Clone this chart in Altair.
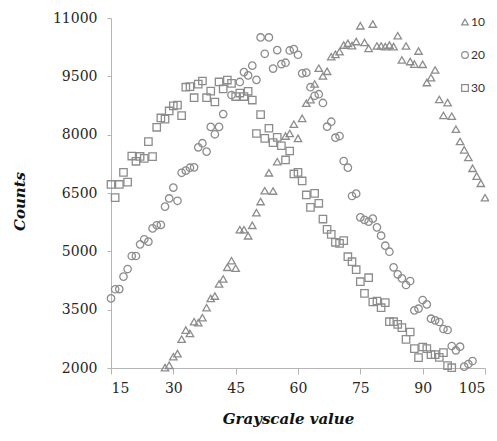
import altair as alt
import pandas as pd

# Series "10" (triangles)
x10 = [28, 29, 30, 31, 32, 33, 34, 35, 36, 37, 38, 39, 40, 41, 42, 43, 44, 45, 46, 47,
       48, 49, 50, 51, 52, 53, 54, 55, 57, 58, 59, 60, 61, 62, 63, 64, 65, 66, 67, 68,
       69, 70, 71, 72, 73, 74, 75, 76, 77, 78, 79, 80, 81, 82, 83, 84, 85, 86, 87, 88,
       89, 90, 91, 92, 93, 94, 95, 96, 97, 98, 99, 100, 101, 102, 103, 104, 105]
y10 = [2010, 2070, 2290, 2370, 2740, 2975, 2890, 3190, 3165, 3295, 3550, 3790, 3850, 4160,
       4290, 4590, 4760, 4565, 5555, 5555, 5400, 5670, 5995, 6280, 6560, 7020, 6550, 7305,
       7965, 8030, 8270, 7905, 8420, 8810, 8900, 9305, 9710, 9510, 9630, 10005, 10065, 10135,
       10305, 10350, 10290, 10395, 10800, 10370, 10220, 10845, 10280, 10280, 10265, 10305,
       10265, 10545, 9920, 10280, 9880, 9815, 10150, 9810, 9340, 9465, 9665, 8905, 8495,
       8825, 8475, 8140, 7825, 7610, 7415, 7135, 6935, 6750, 6380]

# Series "20" (circles)
x20 = [15, 16, 17, 18, 19, 20, 21, 22, 23, 24, 25, 26, 27, 28, 29, 30, 31, 32, 33, 34,
       35, 36, 37, 38, 39, 40, 41, 42, 44, 46, 47, 48, 49, 50, 51, 52, 53, 54, 55, 56,
       57, 58, 59, 60, 61, 62, 63, 64, 65, 66, 67, 68, 69, 70, 71, 72, 73, 74, 75, 76,
       77, 78, 79, 80, 81, 82, 83, 84, 85, 86, 87, 88, 89, 90, 91, 92, 93, 94, 95, 96,
       97, 98, 99, 100, 101, 102]
y20 = [3790, 4025, 4030, 4350, 4545, 4880, 4880, 5180, 5310, 5250, 5590, 5670, 5680, 6150,
       6360, 6640, 6300, 7020, 7075, 7150, 7160, 7675, 7780, 7565, 8200, 8010, 8200, 8530,
       9020, 9355, 9610, 9525, 9775, 9410, 10500, 10080, 10500, 9700, 10175, 9815, 9850,
       10165, 10200, 10055, 9577, 9594, 9220, 9000, 9040, 8815, 8205, 8333, 7922, 7965,
       7323, 7151, 6423, 6483, 5875, 5810, 5765, 5840, 5617, 5402, 5145, 4990, 4589, 4409,
       4306, 4134, 4237, 3483, 3525, 3748, 3637, 3268, 3225, 3183, 3003, 2977, 2566, 2455,
       2548, 2034, 2103, 2180]

# Series "30" (squares)
x30 = list(range(15, 98))
y30 = [6720, 6380, 6720, 7030, 6780, 7450, 7315, 7440, 7390, 7820, 7435, 8190, 8430, 8400,
       8610, 8740, 8760, 8490, 9220, 9235, 8950, 9300, 9380, 8950, 9120, 8840, 9355, 9175,
       9405, 9320, 8980, 9070, 8980, 9115, 8890, 8030, 8515, 7905, 8165, 7795, 7930, 7715,
       7350, 7580, 6990, 7030, 6810, 6450, 6130, 6490, 6235, 5830, 5566, 5437, 5232, 5206,
       5274, 4862, 4733, 4528, 4219, 3920, 4322, 3697, 3723, 3551, 3680, 3191, 3191, 3123,
       3037, 2737, 2926, 2497, 2266, 2540, 2497, 2343, 2343, 2274, 2394, 2060, 2008]

series_names = ["10", "20", "30"]
shapes = ["triangle-up", "circle", "square"]
x_ticks = [15, 30, 45, 60, 75, 90, 105]
y_ticks = [2000, 3500, 5000, 6500, 8000, 9500, 11000]

rows = []
for name, xs, ys in zip(series_names, [x10, x20, x30], [y10, y20, y30]):
    rows += [{"series": name, "x": a, "y": b} for a, b in zip(xs, ys)]
df = pd.DataFrame(rows)

gray = "#8c8c8c"
axis_gray = "#b5b5b5"

chart = alt.Chart(df).mark_point(
    filled=False, size=55, strokeWidth=1.3, color=gray, opacity=1
).encode(
    x=alt.X("x:Q",
            scale=alt.Scale(domain=[15, 105], nice=False, zero=False),
            axis=alt.Axis(values=x_ticks, format="d", title="Grayscale value", grid=False,
                          tickSize=6, tickColor=axis_gray, domainColor=axis_gray,
                          labelFont="DejaVu Serif", labelFontSize=14, labelColor="#262626",
                          labelPadding=7,
                          titleFont="DejaVu Serif", titleFontSize=15, titleFontStyle="italic",
                          titleFontWeight="bold", titleColor="#111111",
                          titleX=177, titleY=55, titleBaseline="alphabetic", titleAlign="center")),
    y=alt.Y("y:Q",
            scale=alt.Scale(domain=[2000, 11000], nice=False, zero=False),
            axis=alt.Axis(values=y_ticks, format="d", title="Counts", grid=False,
                          tickSize=4, tickColor=axis_gray, domainColor=axis_gray,
                          labelFont="DejaVu Serif", labelFontSize=14, labelColor="#262626",
                          labelPadding=10,
                          titleFont="DejaVu Serif", titleFontSize=15, titleFontStyle="italic",
                          titleFontWeight="bold", titleColor="#111111",
                          titleX=-92, titleY=183, titleAngle=270, titleBaseline="middle",
                          titleAlign="center")),
    shape=alt.Shape("series:N",
                    scale=alt.Scale(domain=series_names, range=shapes),
                    legend=alt.Legend(title=None, orient="none", legendX=348, legendY=-2,
                                      labelFont="Lato", labelFontSize=12, labelColor="#333333",
                                      symbolSize=45, symbolStrokeColor=gray,
                                      symbolFillColor="white", symbolStrokeWidth=1.2,
                                      rowPadding=21, labelOffset=0, padding=0)),
).properties(
    width=374, height=350,
    autosize=alt.AutoSizeParams(type="none"),
    padding={"left": 103, "top": 10, "right": 4, "bottom": 60},
).configure_view(stroke=None)

chart.save("out.html", embed_options={"renderer": "svg", "actions": False})
